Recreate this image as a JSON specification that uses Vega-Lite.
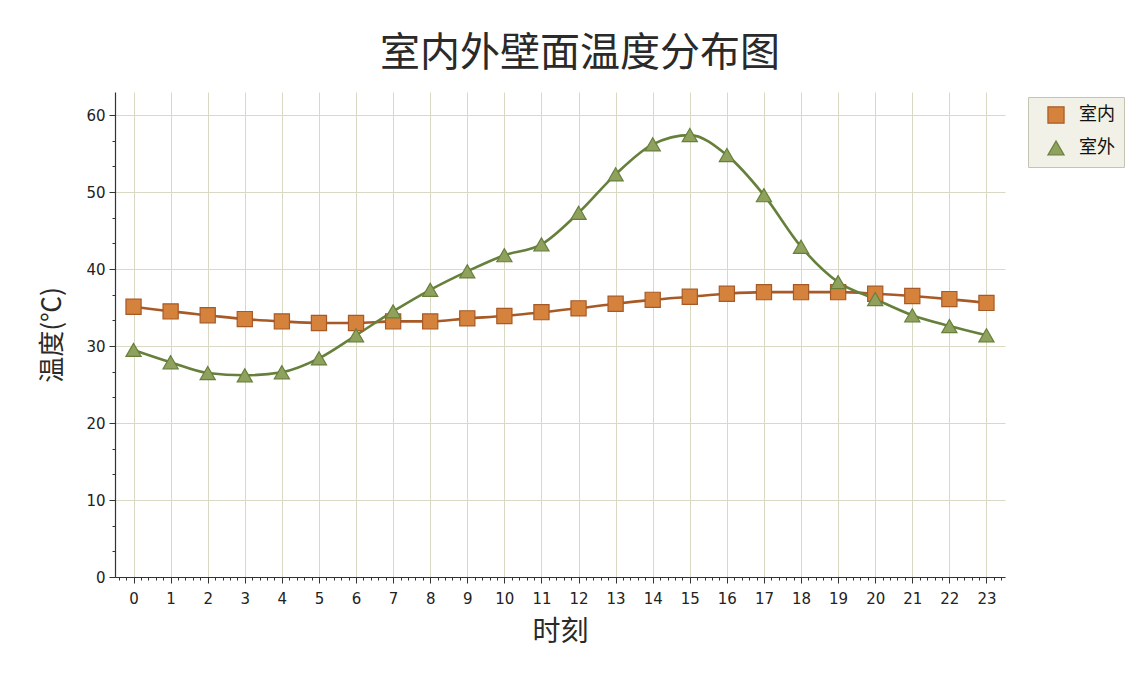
{
  "$schema": "https://vega.github.io/schema/vega-lite/v6.json",
  "width": 890,
  "height": 485,
  "autosize": {"type": "none"},
  "padding": {"left": 115, "top": 92, "right": 140, "bottom": 97},
  "background": "#ffffff",
  "title": {
    "text": "室内外壁面温度分布图",
    "font": "Noto Sans CJK SC",
    "fontSize": 40,
    "fontWeight": "normal",
    "color": "#2a2a2a",
    "offset": 18,
    "dx": 20
  },
  "data": {
    "values": [
      {"hour": 0, "series": "室内", "temp": 35.1},
      {"hour": 1, "series": "室内", "temp": 34.5},
      {"hour": 2, "series": "室内", "temp": 34.0},
      {"hour": 3, "series": "室内", "temp": 33.5},
      {"hour": 4, "series": "室内", "temp": 33.2},
      {"hour": 5, "series": "室内", "temp": 33.0},
      {"hour": 6, "series": "室内", "temp": 33.0},
      {"hour": 7, "series": "室内", "temp": 33.2},
      {"hour": 8, "series": "室内", "temp": 33.2},
      {"hour": 9, "series": "室内", "temp": 33.6},
      {"hour": 10, "series": "室内", "temp": 33.9},
      {"hour": 11, "series": "室内", "temp": 34.4},
      {"hour": 12, "series": "室内", "temp": 34.9},
      {"hour": 13, "series": "室内", "temp": 35.5},
      {"hour": 14, "series": "室内", "temp": 36.0},
      {"hour": 15, "series": "室内", "temp": 36.4},
      {"hour": 16, "series": "室内", "temp": 36.8},
      {"hour": 17, "series": "室内", "temp": 37.0},
      {"hour": 18, "series": "室内", "temp": 37.0},
      {"hour": 19, "series": "室内", "temp": 37.0},
      {"hour": 20, "series": "室内", "temp": 36.8},
      {"hour": 21, "series": "室内", "temp": 36.5},
      {"hour": 22, "series": "室内", "temp": 36.1},
      {"hour": 23, "series": "室内", "temp": 35.6},
      {"hour": 0, "series": "室外", "temp": 29.5},
      {"hour": 1, "series": "室外", "temp": 27.9},
      {"hour": 2, "series": "室外", "temp": 26.5},
      {"hour": 3, "series": "室外", "temp": 26.2},
      {"hour": 4, "series": "室外", "temp": 26.6},
      {"hour": 5, "series": "室外", "temp": 28.4},
      {"hour": 6, "series": "室外", "temp": 31.4},
      {"hour": 7, "series": "室外", "temp": 34.5},
      {"hour": 8, "series": "室外", "temp": 37.3},
      {"hour": 9, "series": "室外", "temp": 39.7},
      {"hour": 10, "series": "室外", "temp": 41.8},
      {"hour": 11, "series": "室外", "temp": 43.2},
      {"hour": 12, "series": "室外", "temp": 47.3},
      {"hour": 13, "series": "室外", "temp": 52.3},
      {"hour": 14, "series": "室外", "temp": 56.2},
      {"hour": 15, "series": "室外", "temp": 57.4},
      {"hour": 16, "series": "室外", "temp": 54.8},
      {"hour": 17, "series": "室外", "temp": 49.6},
      {"hour": 18, "series": "室外", "temp": 42.9},
      {"hour": 19, "series": "室外", "temp": 38.3},
      {"hour": 20, "series": "室外", "temp": 36.1},
      {"hour": 21, "series": "室外", "temp": 34.0},
      {"hour": 22, "series": "室外", "temp": 32.6},
      {"hour": 23, "series": "室外", "temp": 31.4}
    ]
  },
  "layer": [
    {
      "mark": {"type": "line", "interpolate": "monotone", "strokeWidth": 2.6},
      "encoding": {
        "x": {
          "field": "hour", "type": "quantitative",
          "scale": {"domain": [-0.5, 23.5], "nice": false, "zero": false},
          "axis": {
            "orient": "bottom",
            "values": [0,1,2,3,4,5,6,7,8,9,10,11,12,13,14,15,16,17,18,19,20,21,22,23],
            "title": "时刻",
            "titleFont": "Noto Sans CJK SC",
            "titleFontSize": 28,
            "titleFontWeight": "normal",
            "titleColor": "#2a2a2a",
            "titlePadding": 12,
            "labelFont": "DejaVu Sans",
            "labelFontSize": 15,
            "labelColor": "#222222",
            "labelPadding": 8,
            "tickSize": 6,
            "tickColor": "#333333",
            "domainColor": "#333333",
            "domainWidth": 1.2,
            "grid": true,
            "gridColor": "#d9d9c4",
            "gridWidth": 1
          }
        },
        "y": {
          "field": "temp", "type": "quantitative",
          "scale": {"domain": [0, 63], "nice": false},
          "axis": {
            "orient": "left",
            "values": [0, 10, 20, 30, 40, 50, 60],
            "title": "温度(℃)",
            "titleFont": "Noto Sans CJK SC",
            "titleFontSize": 26,
            "titleFontWeight": "normal",
            "titleColor": "#2a2a2a",
            "titlePadding": 20,
            "labelFont": "DejaVu Sans",
            "labelFontSize": 15,
            "labelColor": "#222222",
            "labelPadding": 4,
            "tickSize": 6,
            "tickColor": "#333333",
            "domainColor": "#333333",
            "domainWidth": 1.2,
            "grid": true,
            "gridColor": "#d9d9c4",
            "gridWidth": 1
          }
        },
        "stroke": {
          "field": "series", "type": "nominal",
          "scale": {"domain": ["室内", "室外"], "range": ["#a85a26", "#66803c"]}
        }
      }
    },
    {
      "mark": {"type": "point", "filled": true, "strokeWidth": 1.2, "opacity": 1},
      "encoding": {
        "x": {
          "field": "hour", "type": "quantitative",
          "axis": {
            "orient": "bottom",
            "values": [-0.4,-0.2,0.2,0.4,0.6,0.8,1.2,1.4,1.6,1.8,2.2,2.4,2.6,2.8,3.2,3.4,3.6,3.8,4.2,4.4,4.6,4.8,5.2,5.4,5.6,5.8,6.2,6.4,6.6,6.8,7.2,7.4,7.6,7.8,8.2,8.4,8.6,8.8,9.2,9.4,9.6,9.8,10.2,10.4,10.6,10.8,11.2,11.4,11.6,11.8,12.2,12.4,12.6,12.8,13.2,13.4,13.6,13.8,14.2,14.4,14.6,14.8,15.2,15.4,15.6,15.8,16.2,16.4,16.6,16.8,17.2,17.4,17.6,17.8,18.2,18.4,18.6,18.8,19.2,19.4,19.6,19.8,20.2,20.4,20.6,20.8,21.2,21.4,21.6,21.8,22.2,22.4,22.6,22.8,23.2,23.4],
            "labels": false,
            "title": null,
            "grid": false,
            "domain": false,
            "tickSize": 3,
            "tickColor": "#333333"
          }
        },
        "y": {
          "field": "temp", "type": "quantitative",
          "axis": {
            "orient": "left",
            "values": [3.333,6.667,13.333,16.667,23.333,26.667,33.333,36.667,43.333,46.667,53.333,56.667],
            "labels": false,
            "title": null,
            "grid": false,
            "domain": false,
            "tickSize": 3,
            "tickColor": "#333333"
          }
        },
        "shape": {
          "field": "series", "type": "nominal",
          "scale": {"domain": ["室内", "室外"], "range": ["square", "triangle-up"]},
          "legend": {
            "title": null,
            "orient": "none",
            "legendX": 913,
            "legendY": 5,
            "padding": 9,
            "fillColor": "#f1f1e7",
            "strokeColor": "#c4c4b4",
            "labelFont": "Noto Sans CJK SC",
            "labelFontSize": 18,
            "labelColor": "#111111",
            "symbolSize": 260,
            "symbolStrokeWidth": 1.2,
            "symbolOffset": 10,
            "rowPadding": 12,
            "labelOffset": 14
          }
        },
        "fill": {
          "field": "series", "type": "nominal",
          "scale": {"domain": ["室内", "室外"], "range": ["#d4823c", "#8fa15c"]}
        },
        "stroke": {"field": "series", "type": "nominal"},
        "size": {"value": 230}
      }
    }
  ],
  "resolve": {"axis": {"x": "independent", "y": "independent"}},
  "config": {
    "view": {"stroke": null},
    "axis": {"labelFont": "DejaVu Sans"}
  }
}
